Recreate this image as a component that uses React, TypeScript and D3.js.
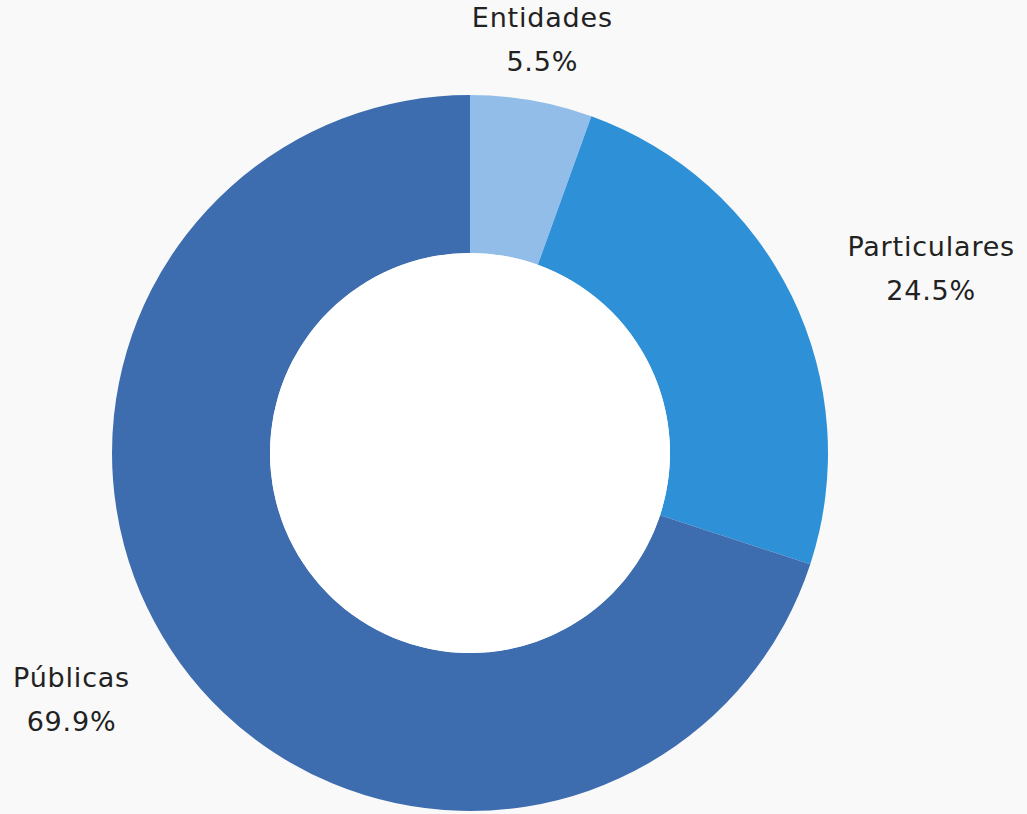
import React, { useRef, useEffect } from 'react';
import * as d3 from 'd3';

const categories = ['Entidades', 'Particulares', 'Públicas'];
const values = [5.5, 24.5, 69.9];
const colors = ['#93bde9', '#2e90d6', '#3d6daf'];

const App: React.FC = () => {
  const svgRef = useRef<SVGSVGElement>(null);

  useEffect(() => {
    document.body.style.margin = '0';
    document.body.style.background = '#f9f9f9';
    if (!svgRef.current) return;

    const width = 1027;
    const height = 814;
    const cx = 470;
    const cy = 453;
    const outerR = 358;
    const innerR = 200;
    const labelR = 420;

    const svg = d3.select(svgRef.current);
    svg.selectAll('*').remove();
    svg.attr('width', width).attr('height', height);

    svg.append('rect').attr('width', width).attr('height', height).attr('fill', '#f9f9f9');

    const g = svg.append('g').attr('transform', `translate(${cx},${cy})`);

    const data = categories.map((c, i) => ({ name: c, value: values[i], color: colors[i] }));

    const pie = d3.pie<any>().value(d => d.value).sort(null);
    const arcs = pie(data);

    const arc = d3.arc<any>().innerRadius(innerR).outerRadius(outerR);
    const labelArc = d3.arc<any>().innerRadius(labelR).outerRadius(labelR);

    g.selectAll('path.slice')
      .data(arcs)
      .enter().append('path')
      .attr('class', 'slice')
      .attr('d', arc)
      .attr('fill', d => d.data.color);

    g.append('circle').attr('r', innerR).attr('fill', '#ffffff');

    arcs.forEach(d => {
      const [lx, ly] = labelArc.centroid(d);
      const lg = g.append('g');
      const t = lg.append('text')
        .attr('text-anchor', 'middle')
        .style('font-family', '"DejaVu Sans", sans-serif')
        .style('font-size', '27px')
        .style('letter-spacing', '0.8px')
        .style('fill', '#222');
      t.append('tspan').attr('x', 0).attr('dy', 0).text(d.data.name);
      t.append('tspan').attr('x', 0).attr('dy', 44).text(d.data.value.toFixed(1) + '%');

      const bb = (t.node() as SVGTextElement).getBBox();
      let dx = 0;
      if (lx > 100) dx = bb.width / 2;
      else if (lx < -100) dx = -bb.width / 2;
      const dy = -(bb.y + bb.height / 2);
      lg.attr('transform', `translate(${lx + dx},${ly + dy})`);
    });
  }, []);

  return <svg ref={svgRef} style={{ display: 'block' }}></svg>;
};

export default App;
